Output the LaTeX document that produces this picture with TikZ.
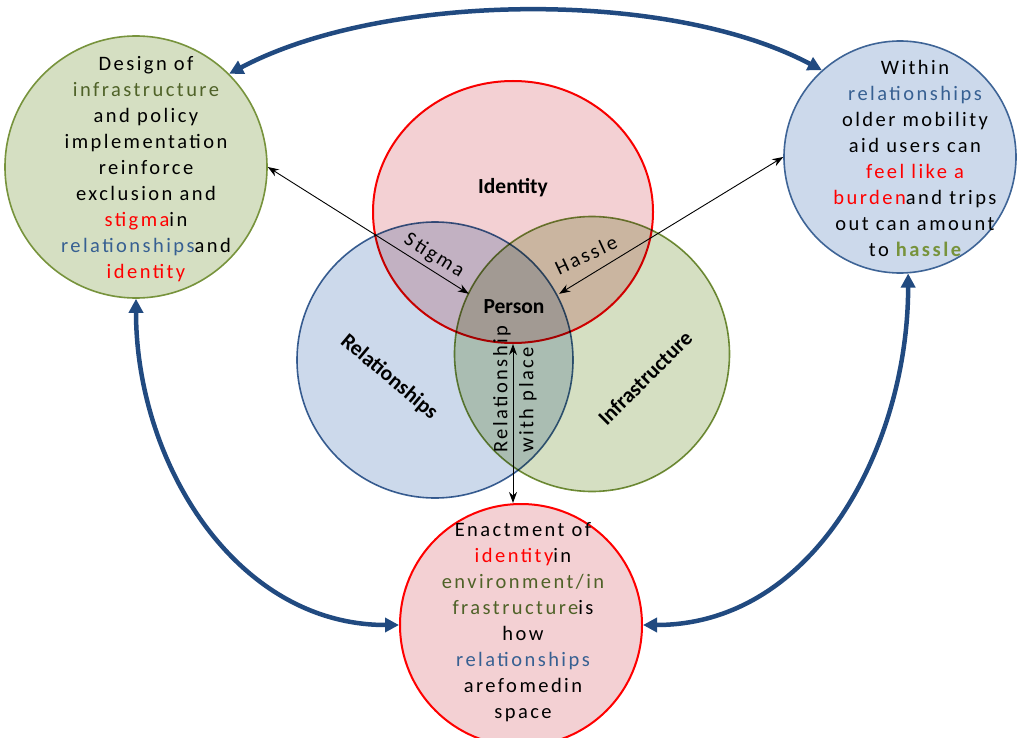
\documentclass[tikz,border=0pt]{standalone}
\usepackage{fontspec}
\setmainfont{Carlito}
\newfontfamily\spaced[LetterSpace=12]{Carlito}
\usetikzlibrary{arrows.meta,shapes.geometric}

\definecolor{idfill}{RGB}{243,208,211}
\definecolor{relfill}{RGB}{204,217,235}
\definecolor{relline}{RGB}{62,100,150}
\definecolor{infill}{RGB}{213,223,194}
\definecolor{inline}{RGB}{119,147,60}
\definecolor{arrowblue}{RGB}{33,74,128}
\definecolor{olivetext}{RGB}{79,98,40}
\definecolor{reltext}{RGB}{55,96,146}

\tikzset{
  bigarrow/.style={{Triangle[length=14pt,width=14pt]}-{Triangle[length=14pt,width=14pt]}, line width=4.5pt, draw=arrowblue},
  thinarrow/.style={{Stealth[length=11pt,width=8pt]}-{Stealth[length=11pt,width=8pt]}, line width=0.9pt},
  setlabel/.style={font=\bfseries\fontsize{21.5}{24}\selectfont},
  circtext/.style={align=center, font=\spaced\fontsize{20.5}{26}\selectfont},
  venn/.style={circle, inner sep=0pt, line width=1.6pt}
}

\begin{document}
\begin{tikzpicture}[x=1pt,y=1pt]
    \useasboundingbox (0,0) rectangle (1020,-738);

    \node[venn, minimum size=262, draw=inline, fill=infill] (design) at (136,-167) {};
    \node[venn, minimum size=232, draw=relline, fill=relfill] (within) at (900,-157) {};
    \node[venn, minimum size=242, draw=red, fill=idfill, line width=2pt] (enactment) at (521,-625) {};

    \begin{scope}[blend mode=multiply]
        \node[venn, minimum size=276, draw=relline, fill=relfill] (rel) at (435,-360) {};
        \node[venn, minimum size=275, draw=inline, fill=infill] (infra) at (592,-354) {};
        \node[ellipse, inner sep=0pt, minimum width=280, minimum height=262, draw=red, fill=idfill, line width=2pt] (identity) at (513,-212) {};
    \end{scope}

    \node[setlabel] at (513,-188) {Identity};
    \node[setlabel, minimum width=90, minimum height=26] (person) at (514,-307) {Person};
    \node[setlabel, rotate=-40] at (389,-377) {Relationships};
    \node[setlabel, rotate=45] at (645,-378) {Infrastructure};
    \node[circtext, rotate=-32] at (434,-256) {Stigma};
    \node[circtext, rotate=25] at (586,-255) {Hassle};
    \node[circtext, rotate=90, align=left] at (515,-389) {Relationship\\with place};

    \node[circtext] at (146,-169) {Design of\\
        \textcolor{olivetext}{infrastructure}\\
        and policy\\
        implementation\\
        reinforce\\
        exclusion and\\
        \textcolor{red}{stigma}in\\
        \textcolor{reltext}{relationships}and\\
        \textcolor{red}{identity}};
    \node[circtext] at (915,-158) {Within\\
        \textcolor{reltext}{relationships}\\
        older mobility\\
        aid users can\\
        \textcolor{red}{feel like a}\\
        \textcolor{red}{burden}and trips\\
        out can amount\\
        to \textcolor{inline}{\bfseries hassle}};
    \node[circtext] at (523,-622) {Enactment of\\
        \textcolor{red}{identity}in\\
        \textcolor{olivetext}{environment/in}\\
        \textcolor{olivetext}{frastructure}is\\
        how\\
        \textcolor{reltext}{relationships}\\
        arefomedin\\
        space};

    \draw[thinarrow] (design.east) -- (person.north west);
    \draw[thinarrow] (person.north east) -- (within.west);
    \draw[thinarrow] (identity.south) -- (identity.south |- enactment.north);

    \draw[bigarrow] (design.45) to[out=28, in=152, looseness=0.75] (within.132);
    \draw[bigarrow] (design.south) to[out=-90, in=180] (enactment.west);
    \draw[bigarrow] (within.-86) to[out=-90, in=0] (enactment.east);
\end{tikzpicture}
\end{document}
